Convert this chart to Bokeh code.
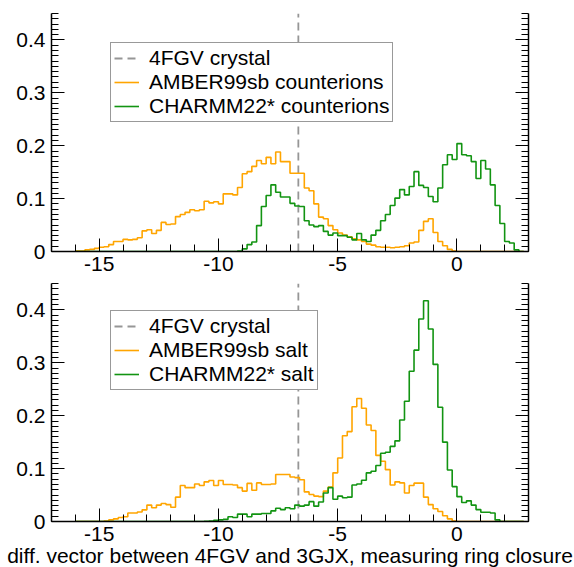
import numpy as np
from bokeh.plotting import figure
from bokeh.models import LinearAxis, FixedTicker, Range1d, Legend, LegendItem
from bokeh.layouts import column
from bokeh.embed import file_html
from bokeh.resources import INLINE

# ---- data -------------------------------------------------------------
# histogram bins: left edges from -16.0 in 0.2 steps (94 bins, last edge 2.8)
bin_edges = np.round(np.arange(-16.0, 2.81, 0.2), 1)

amber_counterions = [
    0.001, 0.001, 0.003, 0.004, 0.006,
    0.008, 0.009, 0.013, 0.019, 0.019,
    0.023, 0.022, 0.023, 0.026, 0.039,
    0.041, 0.034, 0.040, 0.055, 0.051,
    0.052, 0.066, 0.070, 0.074, 0.079,
    0.077, 0.079, 0.095, 0.092, 0.094,
    0.090, 0.109, 0.109, 0.107, 0.121,
    0.147, 0.151, 0.161, 0.172, 0.166,
    0.178, 0.166, 0.188, 0.170, 0.170,
    0.148, 0.148, 0.148, 0.120, 0.115,
    0.090, 0.065, 0.062, 0.049, 0.041,
    0.035, 0.031, 0.028, 0.024, 0.022,
    0.019, 0.014, 0.012, 0.009, 0.008,
    0.008, 0.007, 0.008, 0.009, 0.011,
    0.016, 0.018, 0.040, 0.057, 0.062,
    0.036, 0.019, 0.011, 0.004, 0.001,
    0.0, 0.0, 0.0, 0.0, 0.0,
    0.0, 0.0, 0.0, 0.0, 0.0,
    0.0, 0.0, 0.0, 0.0,
]

charmm_counterions = [
    0.0, 0.0, 0.0, 0.0, 0.0,
    0.0, 0.0, 0.0, 0.0, 0.0,
    0.0, 0.0, 0.0, 0.0, 0.0,
    0.0, 0.0, 0.0, 0.0, 0.0,
    0.0, 0.0, 0.0, 0.0, 0.0,
    0.0, 0.0, 0.0, 0.0, 0.0,
    0.0, 0.0, 0.0, 0.0, 0.001,
    0.005, 0.013, 0.018, 0.049, 0.085,
    0.106, 0.126, 0.112, 0.103, 0.103,
    0.091, 0.086, 0.085, 0.058, 0.050,
    0.047, 0.049, 0.038, 0.031, 0.035,
    0.030, 0.030, 0.027, 0.022, 0.034,
    0.022, 0.019, 0.031, 0.040, 0.058,
    0.070, 0.087, 0.101, 0.117, 0.107,
    0.123, 0.151, 0.125, 0.121, 0.104,
    0.094, 0.120, 0.164, 0.183, 0.174,
    0.204, 0.183, 0.181, 0.170, 0.138,
    0.172, 0.156, 0.126, 0.087, 0.053,
    0.019, 0.016, 0.003, 0.0,
]

amber_salt = [
    0.0, 0.0, 0.0, 0.0, 0.0,
    0.0, 0.001, 0.003, 0.005, 0.0075,
    0.009, 0.016, 0.016, 0.018, 0.022,
    0.031, 0.026, 0.031, 0.034, 0.032,
    0.027, 0.046, 0.068, 0.064, 0.064,
    0.071, 0.068, 0.075, 0.0775, 0.068,
    0.0775, 0.070, 0.070, 0.069, 0.064,
    0.0575, 0.072, 0.059, 0.073, 0.070,
    0.070, 0.071, 0.089, 0.089, 0.089,
    0.084, 0.083, 0.079, 0.056, 0.051,
    0.048, 0.047, 0.0575, 0.065, 0.092,
    0.120, 0.162, 0.170, 0.217, 0.2325,
    0.214, 0.1825, 0.172, 0.125, 0.114,
    0.098, 0.069, 0.075, 0.073, 0.054,
    0.068, 0.0725, 0.0725, 0.046, 0.032,
    0.024, 0.019, 0.011, 0.005, 0.001,
    0.0, 0.0, 0.0, 0.0, 0.0,
    0.0, 0.0, 0.0, 0.0, 0.0,
    0.0, 0.0, 0.0, 0.0,
]

charmm_salt = [
    0.0, 0.0, 0.0, 0.0, 0.0,
    0.0, 0.0, 0.0, 0.0, 0.0,
    0.0, 0.0, 0.0, 0.0, 0.0,
    0.0, 0.0, 0.0, 0.0, 0.0,
    0.0, 0.0, 0.0, 0.0, 0.0,
    0.0, 0.0, 0.0005, 0.001, 0.0025,
    0.003, 0.004, 0.009, 0.0075, 0.014,
    0.014, 0.009, 0.014, 0.014, 0.015,
    0.015, 0.020, 0.025, 0.0225, 0.026,
    0.024, 0.031, 0.029, 0.031, 0.0375,
    0.029, 0.037, 0.054, 0.064, 0.042,
    0.048, 0.045, 0.046, 0.069, 0.071,
    0.078, 0.092, 0.095, 0.106, 0.129,
    0.131, 0.142, 0.1525, 0.192, 0.2275,
    0.284, 0.324, 0.383, 0.4175, 0.364,
    0.297, 0.216, 0.150, 0.0975, 0.066,
    0.047, 0.036, 0.039, 0.031, 0.0225,
    0.0175, 0.0175, 0.016, 0.003, 0.0,
    0.0, 0.0, 0.0, 0.0,
]

crystal_4fgv = -6.65

x_limits = (-17, 3)
y_limits = (0, 0.45)
x_major = [-15, -10, -5, 0]
x_labels = ["-15", "-10", "-5", "0"]
x_minor = list(range(-17, 4))
y_major = [0, 0.1, 0.2, 0.3, 0.4]
y_labels = ["0", "0.1", "0.2", "0.3", "0.4"]
y_minor = [round(0.01 * k, 2) for k in range(0, 46)]

top_names = ["4FGV crystal", "AMBER99sb counterions", "CHARMM22* counterions"]
bottom_names = ["4FGV crystal", "AMBER99sb salt", "CHARMM22* salt"]
x_title = "diff. vector between 4FGV and 3GJX, measuring ring closure"

# ---- style ------------------------------------------------------------
FONT = "Liberation Sans"
FS = "21px"
ORANGE = "#ffa500"
GREEN = "#129412"
GRAY = "#969696"


def style_axis(ax, standoff):
    ax.axis_line_color = "black"
    ax.axis_line_width = 1.5
    ax.major_tick_in = 13
    ax.major_tick_out = 0
    ax.minor_tick_in = 7
    ax.minor_tick_out = 0
    ax.major_tick_line_color = "black"
    ax.minor_tick_line_color = "black"
    ax.major_tick_line_width = 1
    ax.minor_tick_line_width = 1
    ax.major_label_text_font = FONT
    ax.major_label_text_font_size = FS
    ax.major_label_text_color = "black"
    ax.major_label_standoff = standoff


def make_panel(amber, charmm, names, border_top, border_bottom, legend_y, xlabel=None):
    p = figure(frame_width=477, frame_height=238,
               x_range=Range1d(*x_limits), y_range=Range1d(*y_limits),
               output_backend="svg", toolbar_location=None,
               min_border_left=51, min_border_right=46,
               min_border_top=border_top, min_border_bottom=border_bottom)
    p.outline_line_color = None
    p.grid.grid_line_color = None
    p.background_fill_color = "white"
    p.border_fill_color = "white"

    xa = p.xaxis[0]
    xa.ticker = FixedTicker(ticks=x_major, minor_ticks=x_minor)
    xa.major_label_overrides = dict(zip(x_major, x_labels))
    style_axis(xa, 5)
    if xlabel:
        xa.axis_label = xlabel
        xa.axis_label_text_font = FONT
        xa.axis_label_text_font_size = FS
        xa.axis_label_text_font_style = "normal"
        xa.axis_label_text_color = "black"
        xa.axis_label_standoff = 0

    ya = p.yaxis[0]
    ya.ticker = FixedTicker(ticks=y_major, minor_ticks=y_minor)
    ya.major_label_overrides = dict(zip(y_major, y_labels))
    style_axis(ya, 6)

    ra = LinearAxis(ticker=FixedTicker(ticks=y_major, minor_ticks=y_minor))
    ra.major_label_overrides = {t: "" for t in y_major}
    style_axis(ra, 6)
    p.add_layout(ra, "right")

    crystal = p.segment(x0=[crystal_4fgv], y0=[y_limits[0]], x1=[crystal_4fgv], y1=[y_limits[1]],
                        line_color=GRAY, line_dash="8 5", line_width=1.8)
    r_amber = p.step(x=bin_edges, y=list(amber) + [amber[-1]], mode="after",
                     line_color=ORANGE, line_width=1.6)
    r_charmm = p.step(x=bin_edges, y=list(charmm) + [charmm[-1]], mode="after",
                      line_color=GREEN, line_width=1.6)

    legend = Legend(items=[LegendItem(label=names[0], renderers=[crystal]),
                           LegendItem(label=names[1], renderers=[r_amber]),
                           LegendItem(label=names[2], renderers=[r_charmm])],
                    location=(59, legend_y))
    legend.border_line_color = "#333333"
    legend.border_line_width = 1
    legend.background_fill_color = "white"
    legend.background_fill_alpha = 1
    legend.label_text_font = FONT
    legend.label_text_font_size = FS
    legend.label_text_color = "black"
    legend.glyph_width = 25
    legend.glyph_height = 24
    legend.label_height = 24
    legend.label_standoff = 10
    legend.padding = 3
    legend.spacing = 0
    legend.margin = 0
    p.add_layout(legend)
    return p


p_top = make_panel(amber_counterions, charmm_counterions, top_names, 13, 32, 129)
p_bot = make_panel(amber_salt, charmm_salt, bottom_names, 0, 46, 131, xlabel=x_title)

layout = column(p_top, p_bot, spacing=0)
open("out.html", "w").write(file_html(layout, INLINE))
